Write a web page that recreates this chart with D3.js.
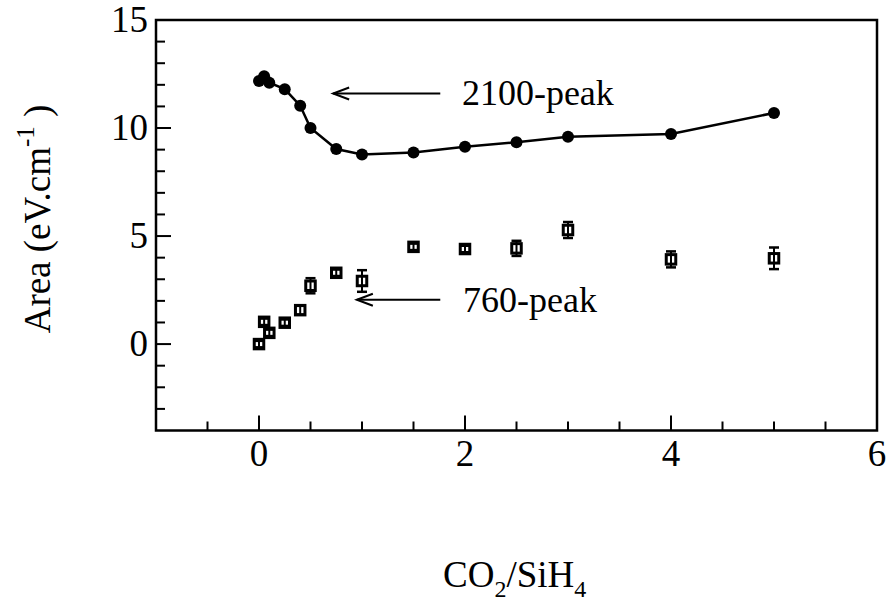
<!DOCTYPE html>
<html><head><meta charset="utf-8">
<script src="https://cdn.jsdelivr.net/npm/d3@7"></script>
<style>
body{margin:0;background:#fff;}
text{font-family:"Liberation Serif","Times New Roman",Times,serif;fill:#000;}
</style></head>
<body><svg id="c" width="887" height="603"></svg>
<script>
// data
const ratio2100 = [0, 0.05, 0.1, 0.25, 0.4, 0.5, 0.75, 1.0, 1.5, 2, 2.5, 3, 4, 5];
const area2100  = [12.18, 12.4, 12.1, 11.8, 11.03, 10.0, 9.03, 8.78, 8.87, 9.13, 9.34, 9.6, 9.72, 10.7];
const ratio760  = [0, 0.05, 0.1, 0.25, 0.4, 0.5, 0.75, 1.0, 1.5, 2, 2.5, 3, 4, 5];
const area760   = [0.0, 1.03, 0.52, 0.99, 1.57, 2.7, 3.3, 2.92, 4.5, 4.4, 4.43, 5.28, 3.92, 3.97];
const err760    = [0.15, 0.15, 0.15, 0.15, 0.2, 0.35, 0.15, 0.5, 0.15, 0.15, 0.35, 0.37, 0.37, 0.5];
const xTicks = [0, 2, 4, 6];
const yTicks = [0, 5, 10, 15];
const annotations = [
  {label: "2100-peak", textX: 1.97, from: 1.76, to: 0.72, y: 11.6},
  {label: "760-peak",  textX: 1.98, from: 1.76, to: 0.95, y: 2.05}
];

const svg = d3.select("#c");
const L = 156, R = 877, T = 20, B = 430.5;
const x = d3.scaleLinear().domain([-1, 6]).range([L, R]);
const y = d3.scaleLinear().domain([-4, 15]).range([B, T]);

// frame
svg.append("rect").attr("x", L).attr("y", T).attr("width", R - L).attr("height", B - T)
  .attr("fill", "none").attr("stroke", "#000").attr("stroke-width", 2.5);

// x ticks (inward)
const xMinor = d3.range(-0.5, 6, 0.5);
svg.append("g").selectAll("line").data(xMinor).join("line")
  .attr("x1", d => x(d)).attr("x2", d => x(d))
  .attr("y1", B).attr("y2", d => B - (Number.isInteger(d / 2) ? 15 : 9))
  .attr("stroke", "#000").attr("stroke-width", 2);
svg.append("g").selectAll("text").data(xTicks).join("text")
  .attr("x", d => x(d)).attr("y", 466).attr("text-anchor", "middle")
  .attr("font-size", 37).text(d => d);

// y ticks (inward)
const yMinor = d3.range(-3, 15, 1);
svg.append("g").selectAll("line").data(yMinor).join("line")
  .attr("y1", d => y(d)).attr("y2", d => y(d))
  .attr("x1", L).attr("x2", d => L + (d % 5 === 0 ? 15 : 9))
  .attr("stroke", "#000").attr("stroke-width", 2);
svg.append("g").selectAll("text").data(yTicks).join("text")
  .attr("x", 148).attr("y", d => y(d) + 12).attr("text-anchor", "end")
  .attr("font-size", 37).text(d => d);

// axis labels
const xl = svg.append("text").attr("x", 443).attr("y", 587).attr("font-size", 37);
xl.append("tspan").text("CO");
xl.append("tspan").attr("font-size", 24).attr("dy", 10).text("2");
xl.append("tspan").attr("dy", -10).text("/SiH");
xl.append("tspan").attr("font-size", 24).attr("dy", 10).text("4");

const yl = svg.append("text").attr("transform", "translate(50,219) rotate(-90)")
  .attr("text-anchor", "middle").attr("font-size", 37);
yl.append("tspan").text("Area (eV.cm");
yl.append("tspan").attr("font-size", 25).attr("dy", -16).text("-1");
yl.append("tspan").attr("dy", 16).text(" )");

// 2100 line + circles
const pts2100 = ratio2100.map((r, i) => [r, area2100[i]]);
svg.append("path").datum(pts2100)
  .attr("d", d3.line().x(d => x(d[0])).y(d => y(d[1])))
  .attr("fill", "none").attr("stroke", "#000").attr("stroke-width", 2.5);
svg.append("g").selectAll("circle").data(pts2100).join("circle")
  .attr("cx", d => x(d[0])).attr("cy", d => y(d[1])).attr("r", 6).attr("fill", "#000");

// 760 squares + error bars
const pts760 = ratio760.map((r, i) => ({x: r, y: area760[i], e: err760[i]}));
const s = 9.5;
const g7 = svg.append("g");
g7.selectAll("rect").data(pts760).join("rect")
  .attr("x", d => x(d.x) - s / 2).attr("y", d => y(d.y) - s / 2)
  .attr("width", s).attr("height", s)
  .attr("fill", "#fff").attr("stroke", "#000").attr("stroke-width", 3);
const eb = g7.selectAll("g.eb").data(pts760).join("g").attr("class", "eb");
eb.append("line").attr("x1", d => x(d.x)).attr("x2", d => x(d.x))
  .attr("y1", d => y(d.y - d.e)).attr("y2", d => y(d.y + d.e))
  .attr("stroke", "#000").attr("stroke-width", 2);
eb.append("line").attr("x1", d => x(d.x) - 5).attr("x2", d => x(d.x) + 5)
  .attr("y1", d => y(d.y + d.e)).attr("y2", d => y(d.y + d.e))
  .attr("stroke", "#000").attr("stroke-width", 2.5);
eb.append("line").attr("x1", d => x(d.x) - 5).attr("x2", d => x(d.x) + 5)
  .attr("y1", d => y(d.y - d.e)).attr("y2", d => y(d.y - d.e))
  .attr("stroke", "#000").attr("stroke-width", 2.5);

// annotations
annotations.forEach(a => {
  const yy = y(a.y), x0 = x(a.from), x1 = x(a.to);
  svg.append("line").attr("x1", x0).attr("x2", x1).attr("y1", yy).attr("y2", yy)
    .attr("stroke", "#000").attr("stroke-width", 2);
  svg.append("path").attr("d", `M${x1 + 16},${yy - 6}L${x1},${yy}L${x1 + 16},${yy + 6}`)
    .attr("fill", "none").attr("stroke", "#000").attr("stroke-width", 2);
  svg.append("text").attr("x", x(a.textX)).attr("y", yy + 12).attr("font-size", 36).text(a.label);
});
</script></body></html>
